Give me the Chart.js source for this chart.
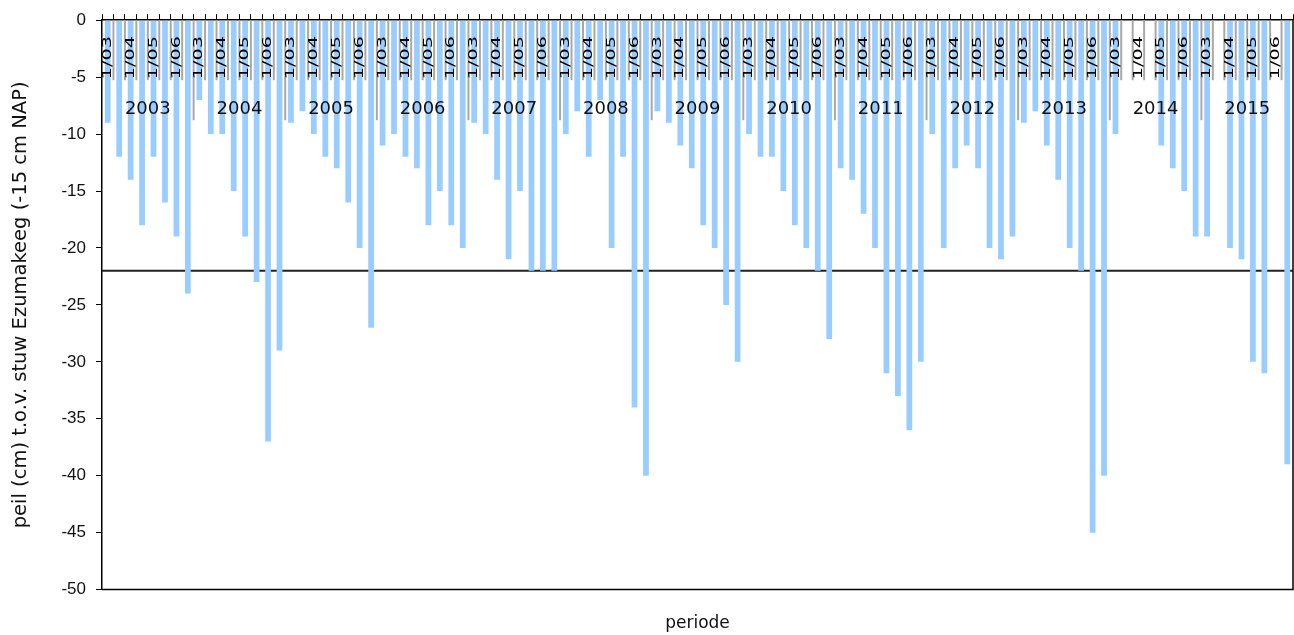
<!DOCTYPE html>
<html><head><meta charset="utf-8">
<script src="https://cdn.jsdelivr.net/npm/chart.js@4/dist/chart.umd.min.js"></script>
<style>html,body{margin:0;padding:0;background:#fff;}canvas{display:block;}</style>
</head><body>
<canvas id="c" width="1294" height="635"></canvas>
<script>
const years = ['2003','2004','2005','2006','2007','2008','2009','2010','2011','2012','2013','2014','2015'];
const periodTicks = ['1/03','','1/04','','1/05','','1/06',''];
const v2003 = [-9, -12, -14, -18, -12, -16, -19, -24];
const v2004 = [-7, -10, -10, -15, -19, -23, -37, -29];
const v2005 = [-9, -8, -10, -12, -13, -16, -20, -27];
const v2006 = [-11, -10, -12, -13, -18, -15, -18, -20];
const v2007 = [-9, -10, -14, -21, -15, -22, -22, -22];
const v2008 = [-10, -8, -12, -7, -20, -12, -34, -40];
const v2009 = [-8, -9, -11, -13, -18, -20, -25, -30];
const v2010 = [-10, -12, -12, -15, -18, -20, -22, -28];
const v2011 = [-13, -14, -17, -20, -31, -33, -36, -30];
const v2012 = [-10, -20, -13, -11, -13, -20, -21, -19];
const v2013 = [-9, -8, -11, -14, -20, -22, -45, -40];
const v2014 = [-10, null, null, null, -11, -13, -15, -19];
const v2015 = [-19, null, -20, -21, -30, -31, null, -39];
const thresholdLevel = -22;
const yMin = -50, yMax = 0, yStep = 5;
const yTitle = 'peil (cm) t.o.v. stuw Ezumakeeg (-15 cm NAP)';
const xTitle = 'periode';

const yearValues = [v2003,v2004,v2005,v2006,v2007,v2008,v2009,v2010,v2011,v2012,v2013,v2014,v2015];
const labels = years.flatMap(y => periodTicks.map((p, j) => y + ' #' + (j + 1) + (p ? ' ' + p : '')));
const values = yearValues.flat();
const perYear = periodTicks.length;

const overlay = {
  id: 'overlay',
  beforeDatasetsDraw(chart) {
    const {ctx, chartArea: a, scales: {y}} = chart;
    const py = y.getPixelForValue(thresholdLevel);
    ctx.save();
    ctx.strokeStyle = '#222';
    ctx.lineWidth = 2;
    ctx.beginPath(); ctx.moveTo(a.left, py); ctx.lineTo(a.right, py); ctx.stroke();
    ctx.restore();
  },
  afterDatasetsDraw(chart) {
    const {ctx, chartArea: a, scales: {x}} = chart;
    const n = labels.length;
    const w = x.getPixelForValue(1) - x.getPixelForValue(0);
    ctx.save();
    ctx.strokeStyle = '#a8a8a8';
    ctx.lineWidth = 2;
    for (let i = 1; i < n; i++) {
      const px = x.getPixelForValue(i) - w / 2;
      const len = (i % perYear === 0) ? 100 : 60;
      ctx.beginPath(); ctx.moveTo(px, a.top); ctx.lineTo(px, a.top + len); ctx.stroke();
    }
    ctx.fillStyle = '#000';
    ctx.font = '12px "DejaVu Sans"';
    ctx.textBaseline = 'middle';
    ctx.textAlign = 'left';
    for (let i = 0; i < n; i++) {
      const t = periodTicks[i % perYear];
      if (!t) continue;
      ctx.save();
      ctx.translate(x.getPixelForValue(i), a.top + 59);
      ctx.rotate(-Math.PI / 2);
      ctx.scale(1.6, 1);
      ctx.fillText(t, 0, 0);
      ctx.restore();
    }
    ctx.fillStyle = '#111';
    ctx.font = '18px "DejaVu Sans"';
    ctx.textAlign = 'center';
    years.forEach((yr, k) => {
      const cx = (x.getPixelForValue(k * perYear) + x.getPixelForValue(k * perYear + perYear - 1)) / 2;
      ctx.fillText(yr, cx, a.top + 89);
    });
    ctx.strokeStyle = '#000';
    ctx.lineWidth = 1.5;
    ctx.beginPath();
    ctx.moveTo(a.left, a.bottom); ctx.lineTo(a.right, a.bottom); ctx.lineTo(a.right, a.top);
    ctx.stroke();
    ctx.restore();
  }
};

new Chart(document.getElementById('c'), {
  type: 'bar',
  data: {
    labels: labels,
    datasets: [{
      data: values,
      backgroundColor: '#99ccff',
      borderWidth: 0,
      barPercentage: 0.5,
      categoryPercentage: 1
    }]
  },
  options: {
    responsive: false,
    animation: false,
    layout: {padding: {top: 0, right: 1, left: 0, bottom: 0}},
    plugins: {
      legend: {display: false},
      tooltip: {enabled: false},
      title: {
        display: true, position: 'bottom', fullSize: false, text: xTitle,
        font: {family: 'DejaVu Sans', size: 17, weight: 'normal'}, color: '#111',
        padding: {top: 24, bottom: 1}
      }
    },
    scales: {
      x: {
        position: 'top',
        offset: true,
        grid: {offset: true, drawOnChartArea: false, tickLength: 6, color: '#000', lineWidth: 1},
        border: {color: '#000', width: 1.5},
        ticks: {display: false, autoSkip: false},
        afterFit(s) { s.height = 18; }
      },
      y: {
        min: yMin, max: yMax,
        ticks: {stepSize: yStep, font: {family: 'Liberation Sans', size: 17}, color: '#111', padding: 10},
        grid: {drawOnChartArea: false, tickLength: 6, color: '#000'},
        border: {color: '#000', width: 1.5},
        title: {display: true, text: yTitle, font: {family: 'DejaVu Sans', size: 19.5}, color: '#111', padding: {top: 9, bottom: 0}},
        afterFit(s) { s.width = 102; }
      }
    }
  },
  plugins: [overlay]
});
</script>
</body></html>
